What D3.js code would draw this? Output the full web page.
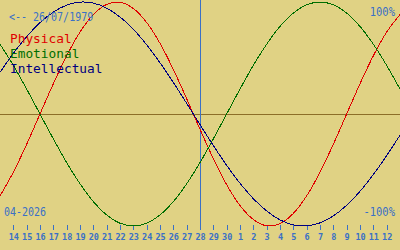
<!DOCTYPE html>
<html>
<head>
<meta charset="utf-8">
<script src="https://cdn.jsdelivr.net/npm/d3@7"></script>
<style>
  html, body { margin: 0; padding: 0; background: #e0d284; }
  svg { display: block; }
  text { font-family: "DejaVu Sans Mono", monospace; }
</style>
</head>
<body>
<div id="chart"></div>
<script>
// days from 13 Apr to 13 May 2026, only the inner ones get a tick
var days = [13, 14, 15, 16, 17, 18, 19, 20, 21, 22, 23, 24, 25, 26, 27, 28, 29, 30,
            1, 2, 3, 4, 5, 6, 7, 8, 9, 10, 11, 12, 13];
var physical = [-0.731, -0.520, -0.270, 0, 0.270, 0.520, 0.731, 0.888, 0.979, 0.998, 0.942,
                0.817, 0.631, 0.398, 0.136, -0.136, -0.398, -0.631, -0.817, -0.942, -0.998,
                -0.979, -0.888, -0.731, -0.520, -0.270, 0, 0.270, 0.520, 0.731, 0.888];
var emotional = [0.623, 0.434, 0.222, 0, -0.222, -0.434, -0.623, -0.782, -0.901, -0.975, -1,
                 -0.975, -0.901, -0.782, -0.623, -0.434, -0.222, 0, 0.222, 0.434, 0.623,
                 0.782, 0.901, 0.975, 1, 0.975, 0.901, 0.782, 0.623, 0.434, 0.222];
var intellectual = [0.372, 0.541, 0.690, 0.815, 0.910, 0.972, 0.999, 0.990, 0.945, 0.866, 0.756,
                    0.618, 0.458, 0.282, 0.095, -0.095, -0.282, -0.458, -0.618, -0.756, -0.866,
                    -0.945, -0.990, -0.999, -0.972, -0.910, -0.815, -0.690, -0.541, -0.372, -0.189];
var today = 15; // index of 28-04-2026
var birth = '<-- 26/07/1979';
var month = '04-2026';

var W = 400, H = 250;
var blue = '#3a70c6';
var svg = d3.select('#chart').append('svg')
    .attr('width', W)
    .attr('height', H);

svg.append('rect')
    .attr('width', W).attr('height', H)
    .attr('fill', '#e0d284');

var x = d3.scaleLinear().domain([0, days.length - 1]).range([0, W]);
var y = d3.scaleLinear().domain([-1, 1]).range([226, 2]);

// middle line
svg.append('line')
    .attr('x1', 0).attr('x2', W)
    .attr('y1', Math.round(y(0)) + 0.5).attr('y2', Math.round(y(0)) + 0.5)
    .attr('stroke', '#8c6e28')
    .attr('shape-rendering', 'crispEdges');

// today line
svg.append('line')
    .attr('x1', Math.round(x(today)) + 0.5).attr('x2', Math.round(x(today)) + 0.5)
    .attr('y1', 0).attr('y2', 230)
    .attr('stroke', blue)
    .attr('shape-rendering', 'crispEdges');

// ticks
var inner = d3.range(1, days.length - 1);
var xAxis = d3.axisBottom(x)
    .tickValues(inner)
    .tickSize(5)
    .tickPadding(4)
    .tickFormat(function(i) { return days[i]; });

var g = svg.append('g')
    .attr('transform', 'translate(0,225)')
    .call(xAxis);
g.select('.domain').remove();
g.selectAll('.tick line')
    .attr('stroke', blue)
    .attr('shape-rendering', 'crispEdges');
g.selectAll('.tick text')
    .attr('fill', blue)
    .style('font-family', '"DejaVu Sans Mono", monospace')
    .style('font-size', '8.5px')
    .style('font-weight', 'bold');

// curves
var line = d3.line()
    .x(function(d, i) { return x(i); })
    .y(function(d) { return y(d); })
    .curve(d3.curveCatmullRom);

var series = [
    { name: 'Physical', values: physical, color: '#e00000' },
    { name: 'Emotional', values: emotional, color: '#006e00' },
    { name: 'Intellectual', values: intellectual, color: '#000080' }
];

svg.selectAll('path.curve')
    .data(series)
    .enter()
    .append('path')
    .attr('class', 'curve')
    .attr('d', function(d) { return line(d.values); })
    .attr('fill', 'none')
    .attr('stroke', function(d) { return d.color; })
    .attr('stroke-width', 1)
    .attr('shape-rendering', 'crispEdges');

// tall text, the original font is narrower than it is high
function label(tx, ty, str, size, color, anchor, sy) {
    svg.append('text')
        .attr('transform', 'translate(' + tx + ',' + ty + ') scale(1,' + sy + ')')
        .attr('text-anchor', anchor || 'start')
        .attr('fill', color)
        .style('font-size', size + 'px')
        .text(str);
}

// legend
series.forEach(function(d, i) {
    label(10, 43 + i * 15, d.name, 12.8, d.color, 'start', 1);
});

label(9, 21, birth, 10, blue, 'start', 1.2);
label(395, 16, '100%', 10.5, blue, 'end', 1.25);
label(395, 216, '-100%', 10.5, blue, 'end', 1.25);
label(4, 216, month, 10, blue, 'start', 1.2);
</script>
</body>
</html>
